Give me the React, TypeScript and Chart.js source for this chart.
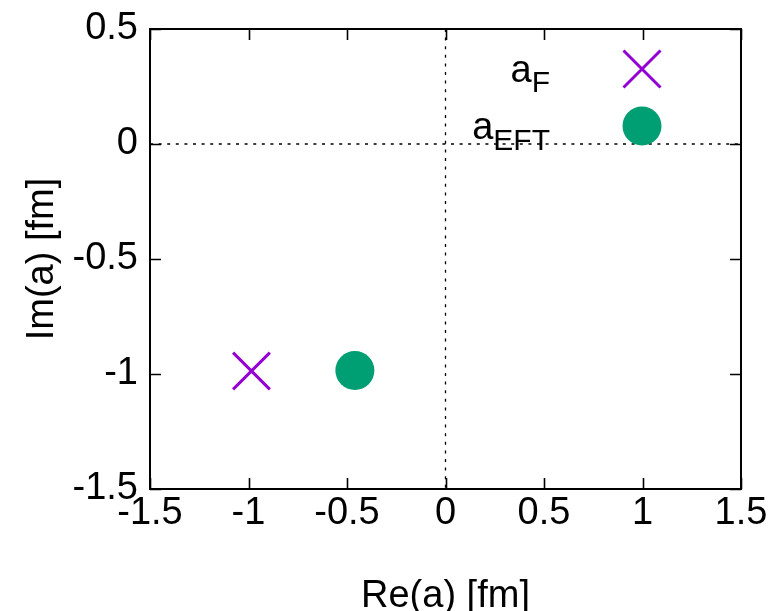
import React, { useEffect, useRef } from "react";
import { Chart, registerables } from "chart.js";

Chart.register(...registerables);

// ---- data ----
const seriesLabels = ["a_F", "a_EFT"];
const aF_re = [-0.985];
const aF_im = [-0.987];
const aEFT_re = [-0.46];
const aEFT_im = [-0.985];
const xTickValues = [-1.5, -1, -0.5, 0, 0.5, 1, 1.5];
const yTickValues = [-1.5, -1, -0.5, 0, 0.5];
const xTitle = "Re(a) [fm]";
const yTitle = "Im(a) [fm]";

const PURPLE = "#9400D3";
const GREEN = "#009E73";
const FONT = "'Liberation Sans', Arial, Helvetica, sans-serif";

const framePlugin = {
  id: "gnuFrame",
  beforeDatasetsDraw(chart: any) {
    const { ctx, chartArea: a, scales } = chart;
    const x0 = scales.x.getPixelForValue(0);
    const y0 = scales.y.getPixelForValue(0);
    ctx.save();
    ctx.strokeStyle = "#000";
    ctx.lineWidth = 1.3;
    ctx.setLineDash([3, 5.6]);
    ctx.beginPath();
    ctx.moveTo(a.left, y0);
    ctx.lineTo(a.right, y0);
    ctx.moveTo(x0, a.top);
    ctx.lineTo(x0, a.bottom);
    ctx.stroke();
    ctx.restore();
  },
  afterDraw(chart: any) {
    const { ctx, chartArea: a, scales } = chart;
    ctx.save();
    ctx.strokeStyle = "#000";
    ctx.lineWidth = 1.6;
    ctx.setLineDash([]);
    const tl = 11;
    ctx.beginPath();
    xTickValues.forEach((v) => {
      const px = Math.round(scales.x.getPixelForValue(v)) + 0.5;
      ctx.moveTo(px, a.bottom);
      ctx.lineTo(px, a.bottom - tl);
      ctx.moveTo(px, a.top);
      ctx.lineTo(px, a.top + tl);
    });
    yTickValues.forEach((v) => {
      const py = Math.round(scales.y.getPixelForValue(v)) + 0.5;
      ctx.moveTo(a.left, py);
      ctx.lineTo(a.left + tl, py);
      ctx.moveTo(a.right, py);
      ctx.lineTo(a.right - tl, py);
    });
    ctx.stroke();
    ctx.lineWidth = 2;
    ctx.strokeRect(a.left, a.top, a.right - a.left, a.bottom - a.top);

    // key
    const sampleX = a.right - 99;
    const rows = [a.top + 40, a.top + 97];
    const textRight = a.right - 191;
    const subDrops = [10, 11];
    seriesLabels.forEach((lab, i) => {
      const [main, sub] = lab.split("_");
      const cy = rows[i];
      const base = cy + 13;
      ctx.fillStyle = "#000";
      ctx.textBaseline = "alphabetic";
      ctx.font = `30px ${FONT}`;
      ctx.textAlign = "right";
      const subW = ctx.measureText(sub).width;
      ctx.fillText(sub, textRight, base + subDrops[i]);
      ctx.font = `38px ${FONT}`;
      ctx.fillText(main, textRight - subW, base);
    });
    // samples
    ctx.strokeStyle = PURPLE;
    ctx.lineWidth = 3;
    ctx.beginPath();
    const h = 18.5;
    ctx.moveTo(sampleX - h, rows[0] - h);
    ctx.lineTo(sampleX + h, rows[0] + h);
    ctx.moveTo(sampleX - h, rows[0] + h);
    ctx.lineTo(sampleX + h, rows[0] - h);
    ctx.stroke();
    ctx.fillStyle = GREEN;
    ctx.beginPath();
    ctx.arc(sampleX, rows[1], 19.5, 0, Math.PI * 2);
    ctx.fill();
    ctx.restore();
  },
};

export default function App() {
  const ref = useRef<HTMLCanvasElement | null>(null);
  useEffect(() => {
    if (!ref.current) return;
    const fmt = (v: any) => String(Number(v));
    const chart = new Chart(ref.current, {
      type: "scatter",
      data: {
        datasets: [
          {
            label: seriesLabels[0],
            data: aF_re.map((x, i) => ({ x, y: aF_im[i] })),
            pointStyle: "crossRot",
            pointRadius: 26,
            borderColor: PURPLE,
            backgroundColor: PURPLE,
            borderWidth: 3,
          },
          {
            label: seriesLabels[1],
            data: aEFT_re.map((x, i) => ({ x, y: aEFT_im[i] })),
            pointStyle: "circle",
            pointRadius: 19.5,
            borderWidth: 0,
            backgroundColor: GREEN,
            borderColor: GREEN,
          },
        ],
      },
      options: {
        responsive: false,
        animation: false,
        layout: { padding: { top: 22, right: 43, left: 0, bottom: 0 } },
        plugins: { legend: { display: false }, tooltip: { enabled: false } },
        scales: {
          x: {
            type: "linear",
            min: -1.5,
            max: 1.5,
            afterFit: (s: any) => {
              s.height = 122;
              s.paddingLeft = 0;
              s.paddingRight = 0;
            },
            afterBuildTicks: (s: any) => {
              s.ticks = xTickValues.map((value) => ({ value }));
            },
            grid: { display: false, drawTicks: false },
            border: { display: false },
            ticks: {
              color: "#000",
              font: { family: FONT, size: 38 },
              padding: 2,
              maxRotation: 0,
              autoSkip: false,
              callback: fmt,
            },
            title: {
              display: true,
              text: xTitle,
              color: "#000",
              font: { family: FONT, size: 38, lineHeight: 1 },
              padding: { top: 0, bottom: -5 },
            },
          },
          y: {
            type: "linear",
            min: -1.5,
            max: 0.5,
            afterFit: (s: any) => {
              s.width = 150;
              s.paddingTop = 0;
              s.paddingBottom = 0;
            },
            afterBuildTicks: (s: any) => {
              s.ticks = yTickValues.map((value) => ({ value }));
            },
            grid: { display: false, drawTicks: false },
            border: { display: false },
            ticks: {
              color: "#000",
              font: { family: FONT, size: 38 },
              padding: 12,
              autoSkip: false,
              callback: fmt,
            },
            title: {
              display: true,
              text: yTitle,
              color: "#000",
              font: { family: FONT, size: 38, lineHeight: 1 },
              padding: { top: 24, bottom: 0 },
            },
          },
        },
      },
      plugins: [framePlugin],
    } as any);
    return () => chart.destroy();
  }, []);
  return (
    <div style={{ position: "absolute", left: 0, top: 0, width: 784, height: 611, background: "#fff" }}>
      <canvas ref={ref} width={784} height={611} style={{ display: "block" }} />
    </div>
  );
}
